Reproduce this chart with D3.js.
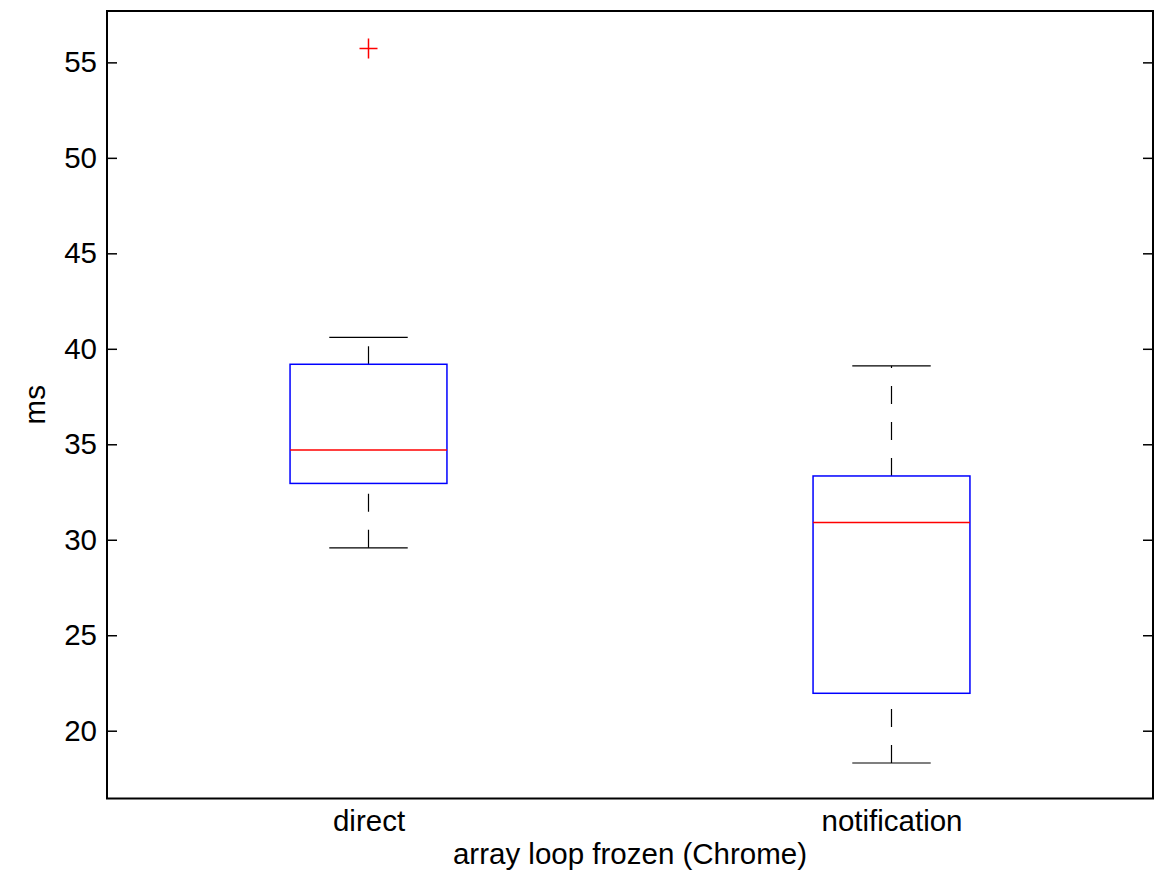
<!DOCTYPE html>
<html>
<head>
<meta charset="utf-8">
<script src="https://cdn.jsdelivr.net/npm/d3@7"></script>
<style>
  html, body { margin: 0; padding: 0; background: #fff; }
  svg text { font-family: "Liberation Sans", Arial, Helvetica, sans-serif; fill: #000; }
</style>
</head>
<body>
<svg id="chart" width="1162" height="872"></svg>
<script>
const categories = ["direct", "notification"];
const whiskerLow = [29.58, 18.31];
const q1 = [32.95, 21.96];
const median = [34.70, 30.91];
const q3 = [39.19, 33.34];
const whiskerHigh = [40.60, 39.11];
const outliers = [[55.73], []];
const yTicks = [20, 25, 30, 35, 40, 45, 50, 55];
const xLabel = "array loop frozen (Chrome)";
const yLabel = "ms";

(function () {
const svg = d3.select("#chart");
const mLeft = 107, mRight = 1153, mTop = 11, mBottom = 798.5;

const x = d3.scaleLinear().domain([0.5, categories.length + 0.5]).range([mLeft, mRight]);
const y = d3.scaleLinear().domain([16.45, 57.69]).range([mBottom, mTop]);

const boxW = 0.3, capW = 0.15;
const fs = 29.5;
const ff = '"Liberation Sans", Arial, Helvetica, sans-serif';

const yAxisL = d3.axisLeft(y).tickValues(yTicks).tickSizeInner(-10).tickSizeOuter(0).tickPadding(10);
const gL = svg.append("g").attr("transform", `translate(${mLeft},0)`).call(yAxisL);
gL.select(".domain").remove();
gL.selectAll(".tick line").attr("stroke", "#000").attr("stroke-width", 1.5);
gL.selectAll(".tick text").style("font-size", fs + "px").attr("fill", "#000").style("font-family", ff);

const yAxisR = d3.axisRight(y).tickValues(yTicks).tickSizeInner(-10).tickSizeOuter(0).tickFormat("");
const gR = svg.append("g").attr("transform", `translate(${mRight},0)`).call(yAxisR);
gR.select(".domain").remove();
gR.selectAll(".tick line").attr("stroke", "#000").attr("stroke-width", 1.5);

svg.append("rect").attr("x", mLeft).attr("y", mTop).attr("width", mRight - mLeft).attr("height", mBottom - mTop)
  .attr("fill", "none").attr("stroke", "#000").attr("stroke-width", 2);

const xAxis = d3.axisBottom(x).tickValues(categories.map((d, i) => i + 1))
  .tickFormat((d, i) => categories[i]).tickSize(0).tickPadding(12);
const gX = svg.append("g").attr("transform", `translate(0,${mBottom})`).call(xAxis);
gX.select(".domain").remove();
gX.selectAll(".tick text").style("font-size", fs + "px").attr("fill", "#000").style("font-family", ff);

const data = categories.map((c, i) => ({ c, i: i + 1, lo: whiskerLow[i], q1: q1[i], med: median[i], q3: q3[i], hi: whiskerHigh[i], out: outliers[i] }));

const g = svg.append("g");
data.forEach(d => {
  const cx = x(d.i);
  const bw = x(d.i + boxW / 2) - x(d.i);
  const cw = x(d.i + capW / 2) - x(d.i);
  g.append("line").attr("x1", cx).attr("x2", cx).attr("y1", y(d.q3)).attr("y2", y(d.hi))
    .attr("stroke", "#000").attr("stroke-width", 1.2).attr("stroke-dasharray", "18,18");
  g.append("line").attr("x1", cx).attr("x2", cx).attr("y1", y(d.lo)).attr("y2", y(d.q1))
    .attr("stroke", "#000").attr("stroke-width", 1.2).attr("stroke-dasharray", "18,18");
  [d.lo, d.hi].forEach(v => {
    g.append("line").attr("x1", cx - cw).attr("x2", cx + cw).attr("y1", y(v)).attr("y2", y(v))
      .attr("stroke", "#000").attr("stroke-width", 1.2);
  });
  g.append("rect").attr("x", cx - bw).attr("y", y(d.q3)).attr("width", 2 * bw).attr("height", y(d.q1) - y(d.q3))
    .attr("fill", "none").attr("stroke", "#0000ff").attr("stroke-width", 1.5);
  g.append("line").attr("x1", cx - bw).attr("x2", cx + bw).attr("y1", y(d.med)).attr("y2", y(d.med))
    .attr("stroke", "#ff0000").attr("stroke-width", 1.5);
  d.out.forEach(v => {
    const oy = y(v);
    g.append("path").attr("d", `M${cx - 9},${oy}H${cx + 9}M${cx},${oy - 10}V${oy + 10}`)
      .attr("stroke", "#ff0000").attr("stroke-width", 1.5).attr("fill", "none");
  });
});

svg.append("text").attr("x", (mLeft + mRight) / 2).attr("y", 864).attr("text-anchor", "middle")
  .style("font-size", fs + "px").style("font-family", ff).text(xLabel);
svg.append("text").attr("transform", `translate(45,${(mTop + mBottom) / 2}) rotate(-90)`)
  .attr("text-anchor", "middle").style("font-size", fs + "px").style("font-family", ff).text(yLabel);
})();
</script>
</body>
</html>
